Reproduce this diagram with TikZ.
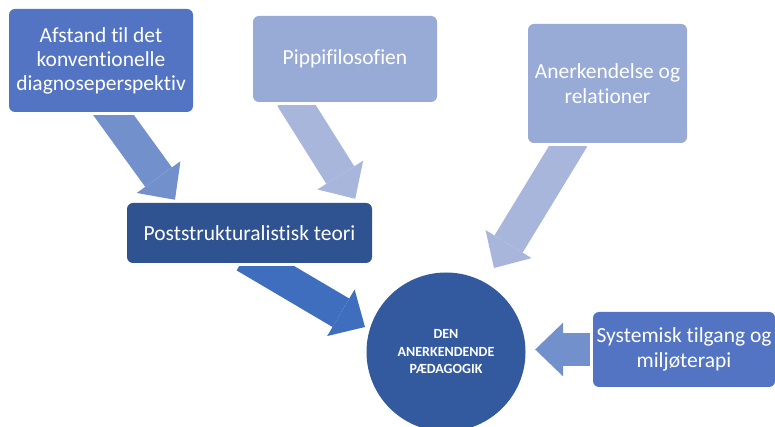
\documentclass[tikz,border=0pt]{standalone}
\usepackage{fontspec}
\setmainfont{Carlito}[Ligatures=NoCommon]
\usetikzlibrary{arrows.meta,backgrounds}

\definecolor{boxblue}{HTML}{5274C2}
\definecolor{paleblue}{HTML}{98AAD6}
\definecolor{darkblue}{HTML}{2F5290}
\definecolor{circblue}{HTML}{335A9E}
\definecolor{arrowmid}{HTML}{7290CC}
\definecolor{arrowpale}{HTML}{A8B6DC}
\definecolor{arrowdark}{HTML}{3F6EBF}

\begin{document}
\begin{tikzpicture}[x=1pt,y=1pt,
        box/.style={rectangle,rounded corners=6pt,fill=#1,text=white,align=center,inner sep=0pt,
            font=\fontsize{21.5}{25}\selectfont,preaction={draw=white,line width=6pt}},
        blockarrow/.style={color=#1,line width=33pt,-{Triangle[length=28pt,width=54pt,line width=0pt]}}]
    \useasboundingbox (0,0) rectangle (775,427);

    \node[box=boxblue,minimum width=184pt,minimum height=103pt,font=\fontsize{21.5}{24}\selectfont] (afstand) at (101,366.5) {Afstand til det\\konventionelle\\diagnoseperspektiv};
    \node[box=paleblue,minimum width=184pt,minimum height=86pt] (pippi) at (345,368) {Pippifilosofien};
    \node[box=paleblue,minimum width=159pt,minimum height=119pt] (anerk) at (607.5,343.5) {Anerkendelse og\\relationer};
    \node[box=darkblue,minimum width=245pt,minimum height=60pt] (teori) at (249.5,194) {Poststrukturalistisk teori};
    \node[box=boxblue,minimum width=182pt,minimum height=75pt] (system) at (684,77.5) {Systemisk tilgang og\\miljøterapi};
    \node[circle,fill=circblue,text=white,minimum size=159pt,inner sep=0pt,align=center,
        font=\fontsize{14}{17.5}\selectfont\bfseries,preaction={draw=white,line width=6pt}] (paed) at (446,75) {DEN\\ANERKENDENDE\\PÆDAGOGIK};

    \begin{pgfonlayer}{background}
        \draw[blockarrow=arrowmid] ([shift={(5,7.5)}]afstand.south) -- ([shift={(-74.5,3)}]teori.north);
        \draw[blockarrow=arrowpale] ([shift={(-53.7,5)}]pippi.south) -- ([shift={(-17,4)}]teori.north east);
        \draw[blockarrow=arrowpale] ([shift={(-34.5,5)}]anerk.south) -- ([shift={(48,84)}]paed.center);
        \draw[blockarrow=arrowdark] ([shift={(-4.5,7)}]teori.south) -- ([shift={(-81,25)}]paed.center);
        \draw[blockarrow=arrowmid] ([shift={(7,0)}]system.west) -- ([shift={(9.5,2.5)}]paed.east);
    \end{pgfonlayer}
\end{tikzpicture}
\end{document}
